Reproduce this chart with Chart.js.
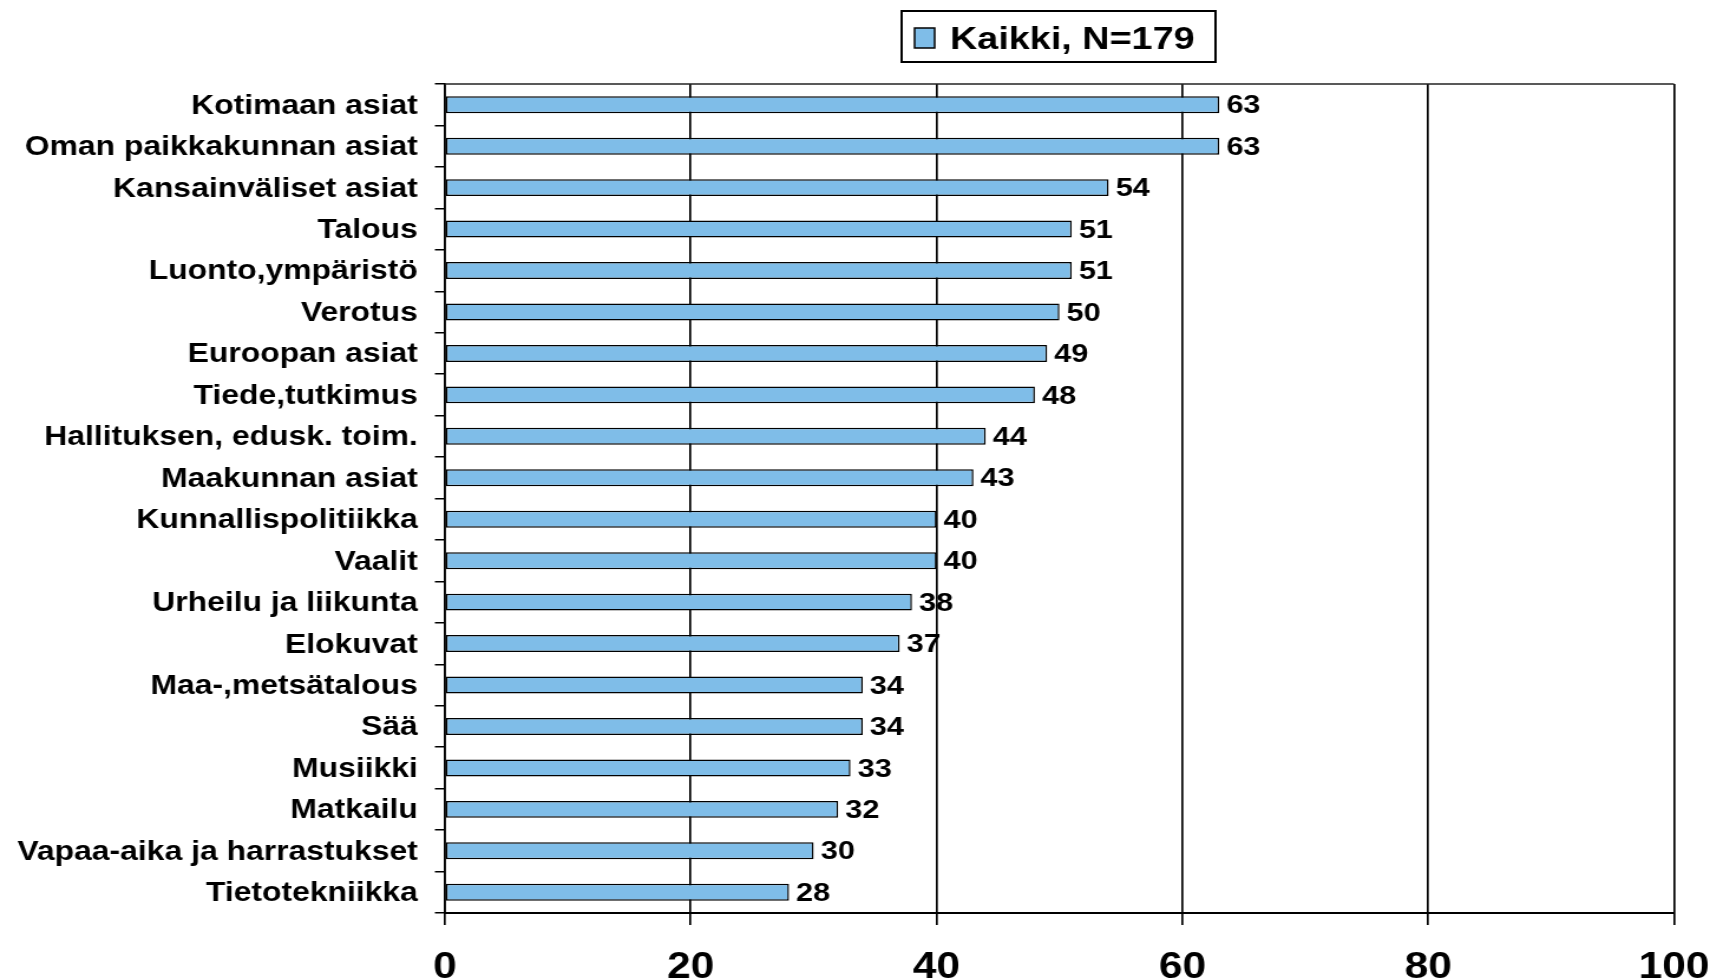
<!DOCTYPE html>
<html>
<head>
<meta charset="utf-8">
<script src="https://cdn.jsdelivr.net/npm/chart.js@4.4.1/dist/chart.umd.min.js"></script>
<style>
  html, body { margin: 0; padding: 0; background: #ffffff; overflow: hidden; }
  #wrap { position: absolute; left: 0; top: 0; width: 1449px; height: 980px;
          transform: scaleX(1.18012); transform-origin: 0 0; }
</style>
</head>
<body>
<div id="wrap"><canvas id="c"></canvas></div>
<script>
const categories = [
  "Kotimaan asiat", "Oman paikkakunnan asiat", "Kansainväliset asiat", "Talous",
  "Luonto,ympäristö", "Verotus", "Euroopan asiat", "Tiede,tutkimus",
  "Hallituksen, edusk. toim.", "Maakunnan asiat", "Kunnallispolitiikka", "Vaalit",
  "Urheilu ja liikunta", "Elokuvat", "Maa-,metsätalous", "Sää", "Musiikki",
  "Matkailu", "Vapaa-aika ja harrastukset", "Tietotekniikka"
];
const values = [63, 63, 54, 51, 51, 50, 49, 48, 44, 43, 40, 40, 38, 37, 34, 34, 33, 32, 30, 28];
const seriesName = "Kaikki, N=179";
const xTicks = [0, 20, 40, 60, 80, 100];

const FONT = '"Liberation Sans", Arial, sans-serif';
const BAR_COLOR = '#7fbde8';

const valueLabels = {
  id: 'valueLabels',
  afterDatasetsDraw(chart) {
    const ctx = chart.ctx;
    const meta = chart.getDatasetMeta(0);
    ctx.save();
    ctx.font = 'bold 26px ' + FONT;
    ctx.fillStyle = '#000';
    ctx.textAlign = 'left';
    ctx.textBaseline = 'middle';
    meta.data.forEach((bar, i) => {
      ctx.fillText(String(chart.data.datasets[0].data[i]), bar.x + 6, bar.y + 1.5);
    });
    ctx.restore();
  }
};

const frame = {
  id: 'frame',
  afterDraw(chart) {
    const ctx = chart.ctx;
    const a = chart.chartArea;
    ctx.save();
    ctx.strokeStyle = '#222';
    ctx.lineWidth = 1.5;
    ctx.beginPath();
    ctx.moveTo(a.left, a.top);
    ctx.lineTo(a.right, a.top);
    ctx.stroke();
    const ds = chart.data.datasets[0];
    ctx.lineWidth = 2;
    ctx.strokeStyle = '#000';
    ctx.strokeRect(764, 11, 266, 51);
    ctx.fillStyle = ds.backgroundColor;
    ctx.fillRect(775, 28, 17, 20);
    ctx.lineWidth = 1.5;
    ctx.strokeRect(775, 28, 17, 20);
    ctx.fillStyle = '#000';
    ctx.font = 'bold 32px ' + FONT;
    ctx.textAlign = 'left';
    ctx.textBaseline = 'middle';
    ctx.fillText(ds.label, 805, 40);
    ctx.restore();
  }
};

new Chart(document.getElementById('c'), {
  type: 'bar',
  data: {
    labels: categories,
    datasets: [{
      label: seriesName,
      data: values,
      backgroundColor: BAR_COLOR,
      borderColor: '#000',
      borderWidth: 1.5,
      borderSkipped: false,
      categoryPercentage: 1.0,
      barPercentage: 0.41
    }]
  },
  options: {
    indexAxis: 'y',
    responsive: true,
    maintainAspectRatio: false,
    animation: false,
    layout: { padding: { top: 84, right: 30.5, left: 0, bottom: 0 } },
    plugins: { legend: { display: false }, tooltip: { enabled: false } },
    scales: {
      x: {
        min: 0, max: 100,
        afterBuildTicks(scale) { scale.ticks = xTicks.map(v => ({ value: v })); },
        afterFit(scale) { scale.height = 67; scale.paddingLeft = 0; scale.paddingRight = 0; },
        grid: { color: '#000', lineWidth: 1.7, tickLength: 12, drawTicks: true },
        border: { display: true, color: '#000', width: 2 },
        ticks: {
          color: '#000',
          font: { family: FONT, size: 36, weight: 'bold' },
          padding: 21,
          maxRotation: 0
        }
      },
      y: {
        afterFit(scale) { scale.width = 377; },
        grid: { drawOnChartArea: false, color: '#000', lineWidth: 1.5, tickLength: 8.5, offset: true },
        border: { display: true, color: '#000', width: 1.7 },
        ticks: {
          color: '#000',
          font: { family: FONT, size: 27, weight: 'bold' },
          padding: 14.5,
          labelOffset: 1.5,
          autoSkip: false
        }
      }
    }
  },
  plugins: [valueLabels, frame]
});
</script>
</body>
</html>
